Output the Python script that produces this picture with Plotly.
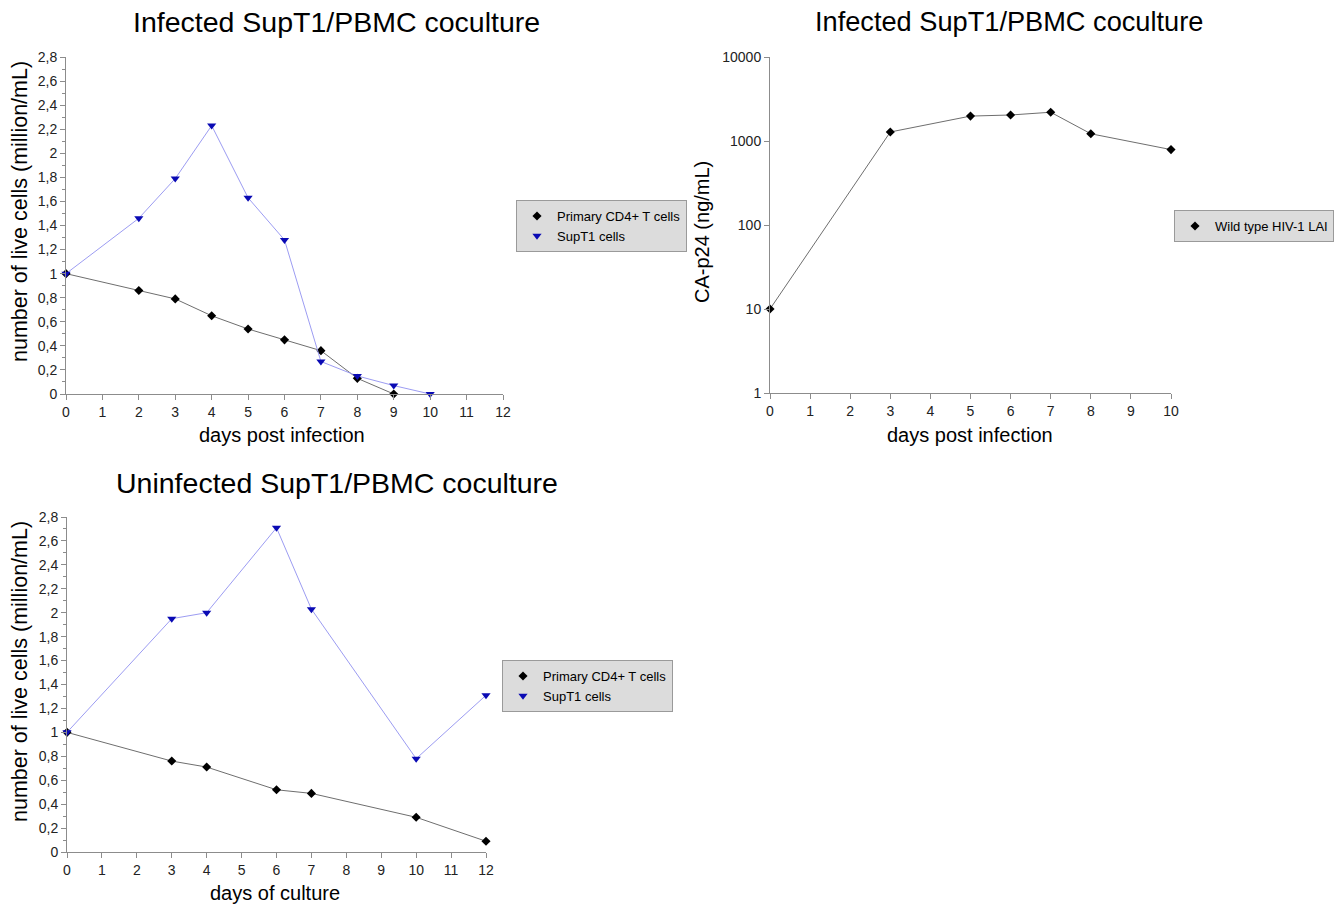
import plotly.graph_objects as go

# ---------------- data ----------------
inf_days_cd4 = [0, 2, 3, 4, 5, 6, 7, 8, 9]
inf_cd4 = [1.0, 0.86, 0.79, 0.65, 0.54, 0.45, 0.36, 0.13, 0.0]
inf_days_sup = [0, 2, 3, 4, 5, 6, 7, 8, 9, 10]
inf_sup = [1.0, 1.46, 1.79, 2.23, 1.63, 1.28, 0.27, 0.15, 0.07, 0.0]

p24_days = [0, 3, 5, 6, 7, 8, 10]
p24_vals = [10, 1280, 1980, 2040, 2200, 1220, 790]

un_days = [0, 3, 4, 6, 7, 10, 12]
un_cd4 = [1.0, 0.76, 0.71, 0.52, 0.49, 0.29, 0.09]
un_sup = [1.0, 1.95, 2.0, 2.71, 2.03, 0.78, 1.31]

lin_ticks = [0, 0.2, 0.4, 0.6, 0.8, 1, 1.2, 1.4, 1.6, 1.8, 2, 2.2, 2.4, 2.6, 2.8]
lin_ticktext = ["0", "0,2", "0,4", "0,6", "0,8", "1", "1,2", "1,4", "1,6", "1,8",
                "2", "2,2", "2,4", "2,6", "2,8"]
log_ticks = [1, 10, 100, 1000, 10000]
log_ticktext = ["1", "10", "100", "1000", "10000"]

name_cd4 = "Primary CD4+ T cells"
name_sup = "SupT1 cells"
name_wt = "Wild type HIV-1 LAI"

W, H = 1336, 904
FONT = "Liberation Sans, Arial, sans-serif"
BLACK_LINE = "#6e6e6e"
BLUE_LINE = "#9c9cf2"
BLUE_MARK = "#0a0ab4"
AXIS = "#8c8c8c"


def px(x):
    return x / W


def py(y):
    return 1 - y / H


fig = go.Figure()


def add_series(xs, ys, xa, ya, name, symbol, mcolor, lcolor, msize, legend):
    fig.add_trace(go.Scatter(x=xs, y=ys, xaxis=xa, yaxis=ya, mode="lines",
                             line=dict(color=lcolor, width=1), showlegend=False,
                             cliponaxis=False, hoverinfo="skip"))
    fig.add_trace(go.Scatter(x=xs, y=ys, xaxis=xa, yaxis=ya, mode="markers",
                             marker=dict(symbol=symbol, color=mcolor, size=msize),
                             name=name, legend=legend, cliponaxis=False))


add_series(inf_days_cd4, inf_cd4, "x", "y", name_cd4, "diamond", "black", BLACK_LINE, 7, "legend")
add_series(inf_days_sup, inf_sup, "x", "y", name_sup, "triangle-down", BLUE_MARK, BLUE_LINE, 8, "legend")
add_series(p24_days, p24_vals, "x2", "y2", name_wt, "diamond", "black", BLACK_LINE, 7, "legend2")
add_series(un_days, un_cd4, "x3", "y3", name_cd4, "diamond", "black", BLACK_LINE, 7, "legend3")
add_series(un_days, un_sup, "x3", "y3", name_sup, "triangle-down", BLUE_MARK, BLUE_LINE, 8, "legend3")

tickfont = dict(family=FONT, size=14, color="#222222")


def xaxis(domain, anchor, rng, dtick):
    return dict(domain=domain, anchor=anchor, range=rng, dtick=dtick, tick0=0,
                showline=True, linecolor=AXIS, linewidth=1, ticks="outside",
                ticklen=5, tickcolor=AXIS, showgrid=False, zeroline=False,
                tickfont=tickfont, fixedrange=True, automargin=False)


def yaxis_lin(domain, anchor):
    return dict(domain=domain, anchor=anchor, range=[0, 2.8], tickvals=lin_ticks,
                ticktext=lin_ticktext, showline=True, linecolor=AXIS, linewidth=1,
                ticks="outside", ticklen=5, tickcolor=AXIS, showgrid=False,
                zeroline=False, tickfont=tickfont,
                minor=dict(dtick=0.1, tick0=0, ticks="outside", ticklen=3,
                           tickcolor=AXIS, showgrid=False),
                fixedrange=True, automargin=False)


legend_style = dict(bgcolor="#dcdcdc", bordercolor="#9a9a9a", borderwidth=1,
                    font=dict(family=FONT, size=13, color="black"),
                    yanchor="top", itemwidth=30, tracegroupgap=0)

fig.update_layout(
    width=W, height=H,
    margin=dict(l=0, r=0, t=0, b=0, autoexpand=False),
    paper_bgcolor="white", plot_bgcolor="white",
    font=dict(family=FONT, color="black"),
    xaxis=xaxis([px(66), px(503)], "y", [0, 12], 1),
    yaxis=yaxis_lin([py(394), py(57)], "x"),
    xaxis2=xaxis([px(770), px(1171)], "y2", [0, 10], 1),
    yaxis2=dict(domain=[py(393), py(57)], anchor="x2", type="log", range=[0, 4],
                tickvals=log_ticks, ticktext=log_ticktext, showline=True,
                linecolor=AXIS, linewidth=1, ticks="outside", ticklen=5,
                tickcolor=AXIS, showgrid=False, zeroline=False, tickfont=tickfont,
                fixedrange=True, automargin=False),
    xaxis3=xaxis([px(67), px(486)], "y3", [0, 12], 1),
    yaxis3=yaxis_lin([py(852), py(517)], "x3"),
    legend=dict(x=px(516), y=py(200), xanchor="left", **legend_style),
    legend2=dict(x=px(1334), y=py(210), xanchor="right", **legend_style),
    legend3=dict(x=px(502), y=py(660), xanchor="left", **legend_style),
    showlegend=True,
)

titles = [
    ("Infected SupT1/PBMC coculture", 337, 22, 28.5),
    ("Infected SupT1/PBMC coculture", 1009, 22, 27.2),
    ("Uninfected SupT1/PBMC coculture", 337, 483, 28.5),
]
for text, x, y, sz in titles:
    fig.add_annotation(text=text, x=px(x), y=py(y), xref="paper", yref="paper",
                       showarrow=False, xanchor="center", yanchor="middle",
                       font=dict(family=FONT, size=sz, color="black"))

axis_titles = [
    ("days post infection", 282, 435, 0, 20),
    ("days post infection", 970, 435, 0, 20),
    ("days of culture", 275, 893, 0, 20),
    ("number of live cells (million/mL)", 20, 212, -90, 21.5),
    ("number of live cells (million/mL)", 20, 672, -90, 21.5),
    ("CA-p24 (ng/mL)", 702, 232, -90, 20),
]
for text, x, y, ang, sz in axis_titles:
    fig.add_annotation(text=text, x=px(x), y=py(y), xref="paper", yref="paper",
                       showarrow=False, xanchor="center", yanchor="middle",
                       textangle=ang, font=dict(family=FONT, size=sz, color="black"))

fig.write_html("out.html")
